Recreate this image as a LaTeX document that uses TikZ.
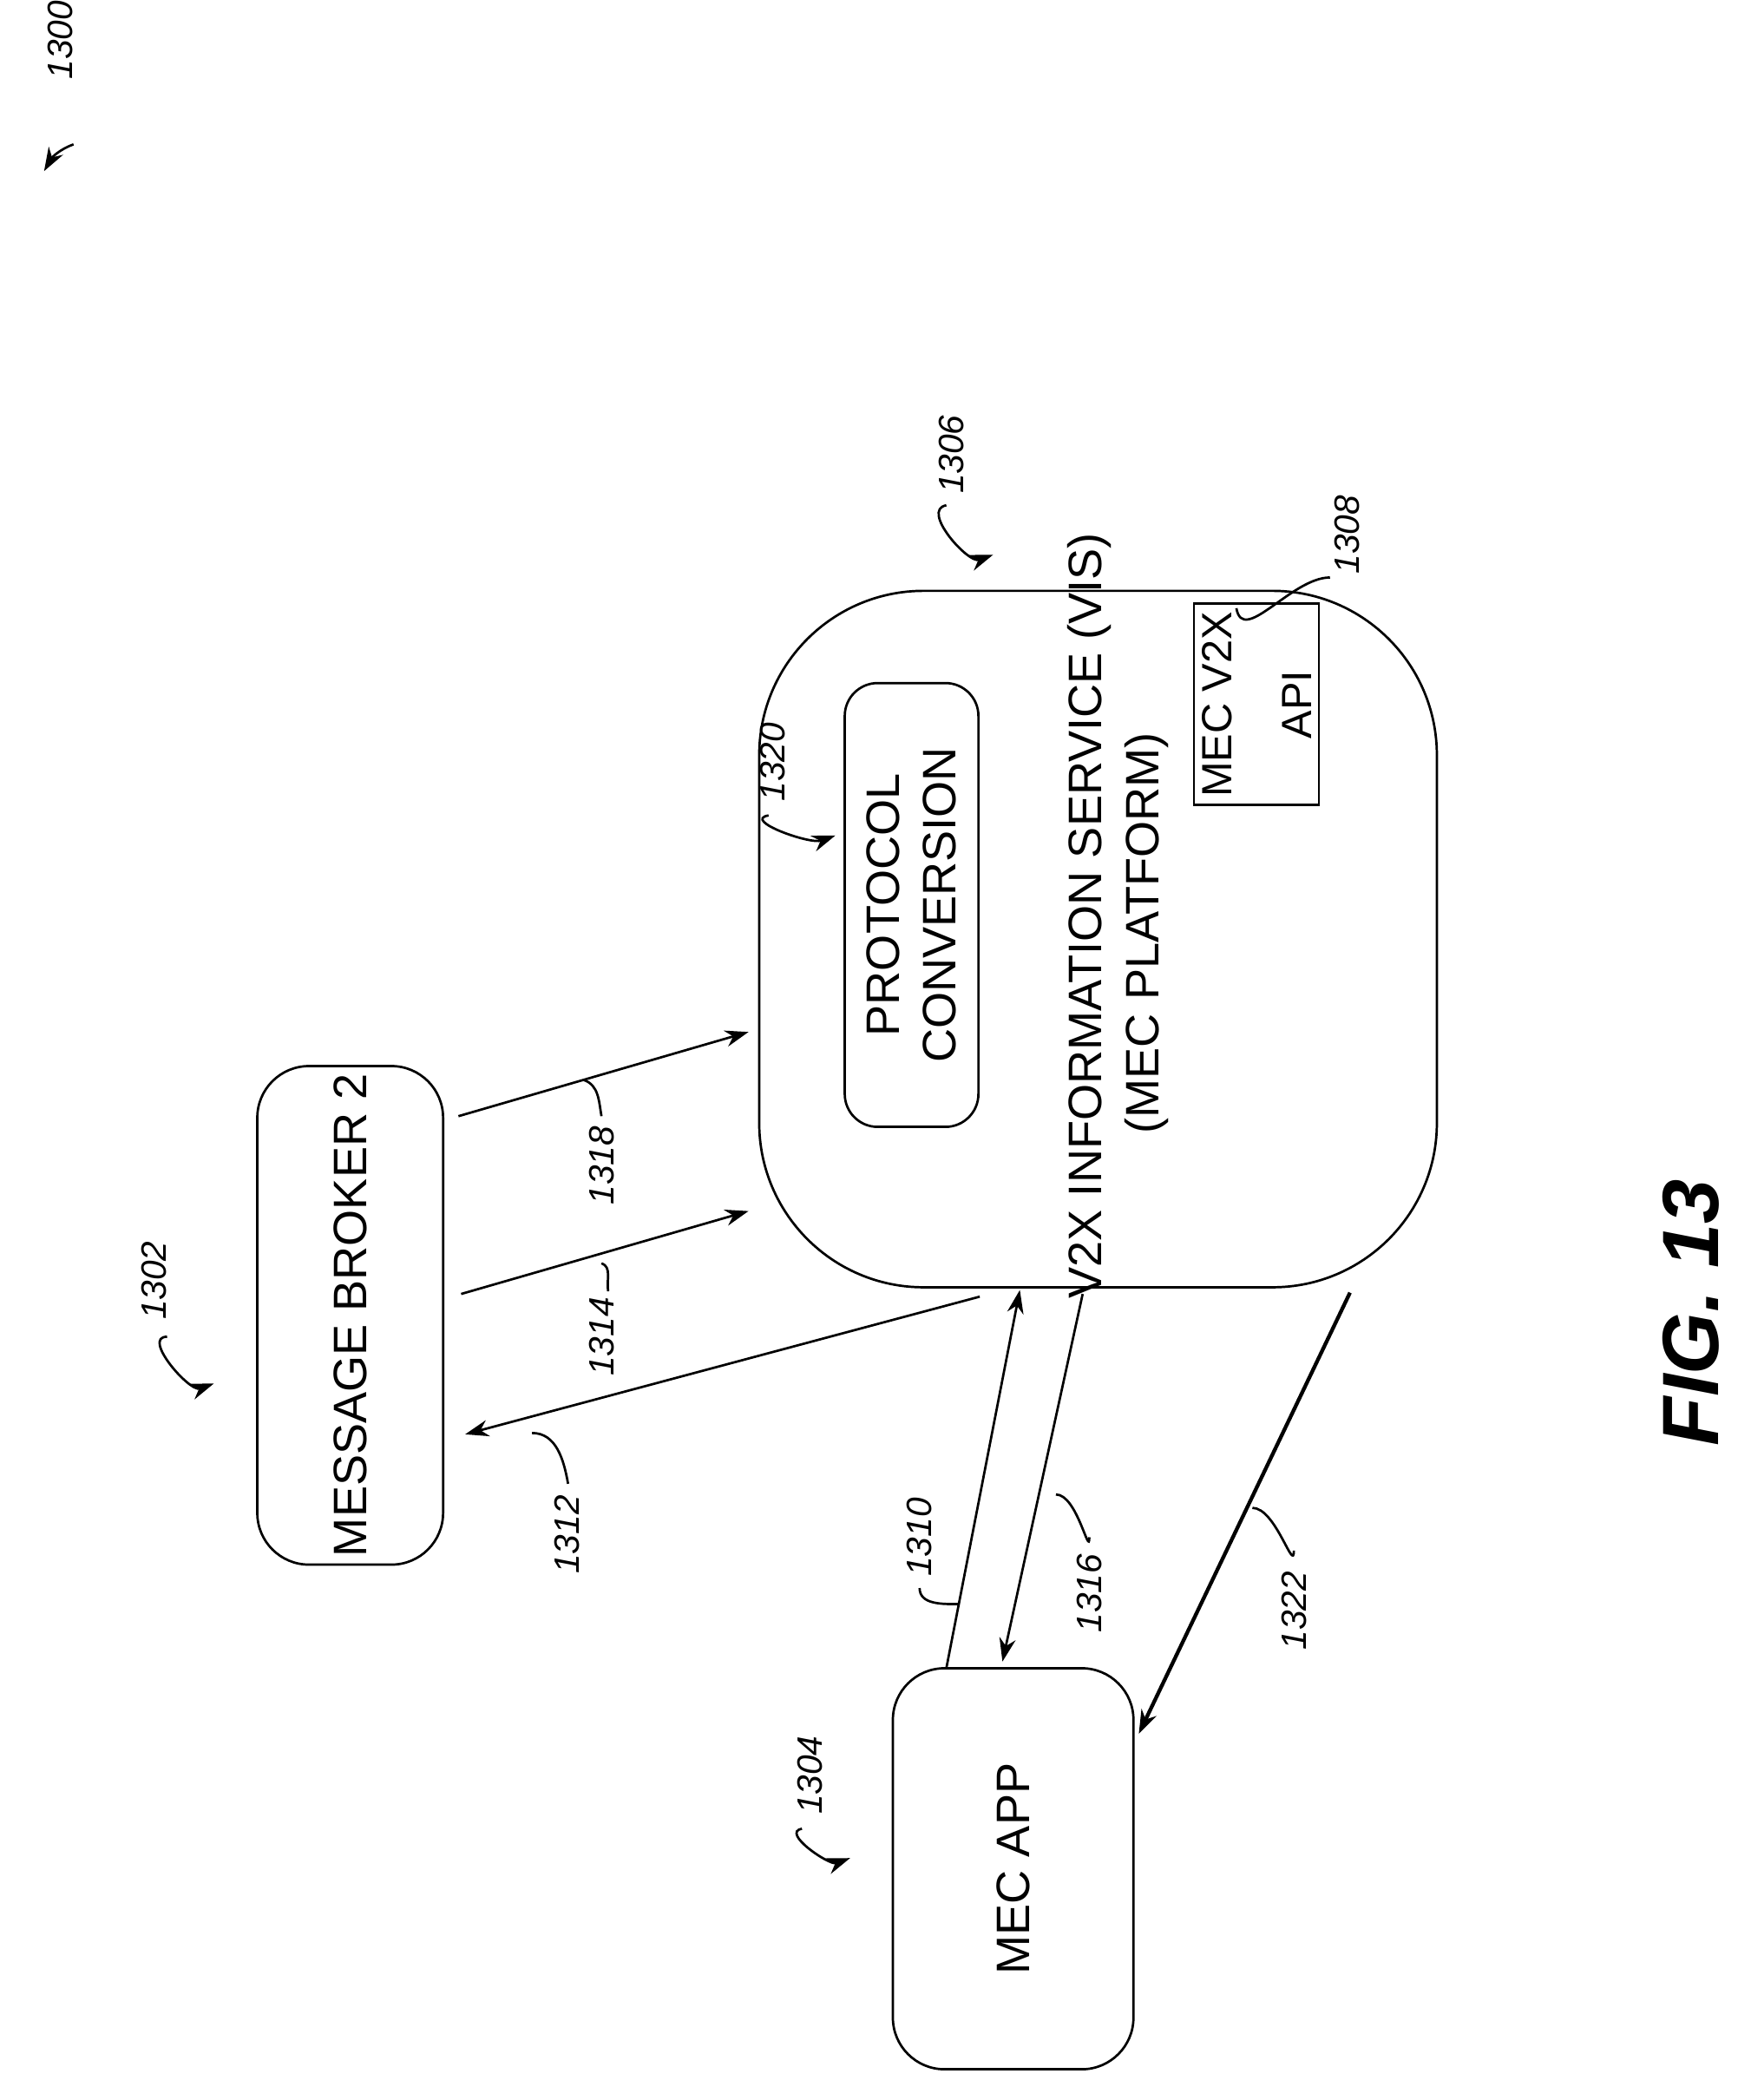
\documentclass[tikz,border=0pt]{standalone}
\usepackage{fontspec}
\setmainfont{Liberation Sans}
\usetikzlibrary{arrows.meta, positioning}
\tikzstyle{line} = [draw, line width=1pt, -{Stealth[length=10pt,width=7pt]}]
\tikzstyle{block} = [rectangle, draw, line width=1pt, rounded corners=22pt, text centered, font=\fontsize{20}{24}\selectfont, rotate=90]
\tikzstyle{lbl} = [font=\itshape\fontsize{15}{18}\selectfont, rotate=90]
\tikzstyle{lead} = [draw, line width=1pt]

\begin{document}
\begin{tikzpicture}[x=0.02cm, y=-0.02cm]
\useasboundingbox (0,0) rectangle (1300,1571);
% boxes
\node [block, minimum width=332*0.02cm, minimum height=139*0.02cm] (broker) at (262,984) {MESSAGE BROKER 2};
\node [block, minimum width=300*0.02cm, minimum height=180*0.02cm] (app) at (758,1398) {MEC APP};
\draw [line width=1pt, rounded corners=70pt] (568,442) rectangle (1075,963);
\node [block, minimum width=332*0.02cm, minimum height=100*0.02cm, rounded corners=14pt, align=center] (conv) at (682,677) {PROTOCOL\\CONVERSION};
\node [rectangle, draw, line width=1pt, rotate=90, minimum width=142*0.02cm, minimum height=84*0.02cm, align=center, font=\fontsize{18}{34}\selectfont] (api) at (940,527) {MEC V2X\\API};
\node [rotate=90, font=\fontsize{20}{24}\selectfont] (vis) at (815,685) {V2X INFORMATION SERVICE (VIS)};
\node [rotate=90, font=\fontsize{20}{24}\selectfont] (plat) at (858,698) {(MEC PLATFORM)};
% connectors
\coordinate (a1) at (343,835); \coordinate (b1) at (560,772);
\coordinate (a2) at (345,968); \coordinate (b2) at (560,906);
\coordinate (a3) at (733,970); \coordinate (b3) at (348,1073);
\coordinate (a4) at (708,1248); \coordinate (b4) at (763,965);
\coordinate (a5) at (810,968); \coordinate (b5) at (750,1243);
\coordinate (a6) at (1010,967); \coordinate (b6) at (852,1297);
\path [line] (a1) -- (b1);
\path [line] (a2) -- (b2);
\path [line] (a3) -- (b3);
\path [line] (a4) -- (b4);
\path [line] (a5) -- (b5);
\path [line, line width=1.6pt] (a6) -- (b6);
% reference labels
\node [lbl] (n1300) at (45,30) {1300};
\node [lbl] (n1302) at (115,958) {1302};
\node [lbl] (n1304) at (606,1328) {1304};
\node [lbl] (n1306) at (712,340) {1306};
\node [lbl] (n1320) at (578,570) {1320};
\node [lbl] (n1308) at (1008,400) {1308};
\node [lbl] (n1318) at (450,872) {1318};
\node [lbl] (n1314) at (450,1000) {1314};
\node [lbl] (n1312) at (424,1148) {1312};
\node [lbl] (n1310) at (688,1150) {1310};
\node [lbl] (n1316) at (815,1192) {1316};
\node [lbl] (n1322) at (968,1205) {1322};
\path [line] (55,108) to[out=200,in=60] (33,128);
\path [line] (125,1000) to[out=180,in=200] (160,1035);
\path [line] (600,1368) to[out=190,in=200] (636,1390);
\path [line] (708,378) to[out=190,in=200] (743,415);
\path [line] (575,610) to[out=190,in=200] (625,625);
\path [lead] (925,455) to[out=-80,in=180] (995,432);
\path [lead] (437,808) to[out=-20,in=100] (450,835);
\path [lead] (450,945) to[out=-20,in=100] (455,966);
\path [lead] (398,1072) to[out=0,in=100] (425,1110);
\path [lead] (718,1200) to[out=180,in=-90] (688,1188);
\path [lead] (790,1118) to[out=0,in=-90] (815,1150);
\path [lead] (937,1128) to[out=0,in=-90] (968,1160);
\node [rotate=90, font=\bfseries\itshape\fontsize{34}{40}\selectfont] (fig) at (1265,982) {FIG. 13};
\end{tikzpicture}
\end{document}
